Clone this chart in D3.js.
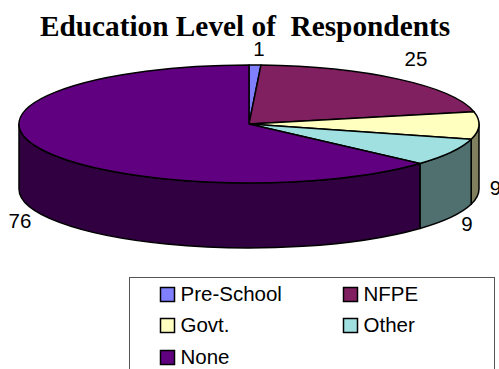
<!DOCTYPE html>
<html><head><meta charset="utf-8">
<script src="https://cdn.jsdelivr.net/npm/d3@7"></script>
<style>html,body{margin:0;padding:0;background:#fff;overflow:hidden}svg{display:block}</style>
</head><body><div id="c"></div>
<script>
const categories = ["Pre-School","NFPE","Govt.","Other","None"];
const values = [1,25,9,9,76];
const topColors = ["#8080ff","#802060","#ffffc0","#a0e0e0","#600080"];
const sideColors = ["#40407f","#401030","#80805f","#507070","#300040"];
const W=499,H=369,cx=249,cy=124,rx=230,ry=59,depth=65;
const svg=d3.select("#c").append("svg").attr("width",W).attr("height",H);
const pie=d3.pie().sort(null).value(d=>d)(values);
const px=a=>cx+rx*Math.sin(a), py=a=>cy-ry*Math.cos(a);
const lo=Math.PI/2, hi=3*Math.PI/2;
// side walls
svg.append("g").selectAll("path").data(pie.filter(d=>d.endAngle>lo&&d.startAngle<hi)).join("path")
 .attr("d",d=>{const a=Math.max(d.startAngle,lo),b=Math.min(d.endAngle,hi);
   const large=(b-a)>Math.PI?1:0;
   return `M${px(a)},${py(a)}A${rx},${ry} 0 ${large} 1 ${px(b)},${py(b)}L${px(b)},${py(b)+depth}A${rx},${ry} 0 ${large} 0 ${px(a)},${py(a)+depth}Z`;})
 .attr("fill",d=>sideColors[d.index]).attr("stroke","#000").attr("stroke-width",1.5).attr("stroke-linejoin","round");
// top face
const arc=d3.arc().innerRadius(0).outerRadius(1);
svg.append("g").attr("transform",`translate(${cx},${cy}) scale(${rx},${ry})`)
 .selectAll("path").data(pie).join("path").attr("d",arc)
 .attr("fill",d=>topColors[d.index]).attr("stroke","#000").attr("stroke-width",1.5)
 .attr("vector-effect","non-scaling-stroke").attr("stroke-linejoin","round");
// title
svg.append("text").attr("x",245).attr("y",36).attr("text-anchor","middle")
 .attr("font-family","Liberation Serif").attr("font-weight","bold").attr("font-size",29.3)
 .attr("xml:space","preserve").style("white-space","pre").text("Education Level of  Respondents");
// data labels
const labelPos=[[259,56],[416,66],[495.5,195],[467,231],[20,228]];
svg.append("g").selectAll("text").data(values).join("text")
 .attr("x",(d,i)=>labelPos[i][0]).attr("y",(d,i)=>labelPos[i][1]).attr("text-anchor","middle")
 .attr("font-family","Liberation Sans").attr("font-size",20.5).attr("fill","#000").text(d=>d);
// legend
svg.append("rect").attr("x",129.5).attr("y",277.5).attr("width",365).attr("height",100)
 .attr("fill","#fff").attr("stroke","#555").attr("stroke-width",1);
const lx=[160,343], ly=[294.5,325.5,357.5];
const lg=svg.append("g").selectAll("g").data(categories).join("g")
 .attr("transform",(d,i)=>`translate(${lx[i%2]},${ly[Math.floor(i/2)]})`);
lg.append("rect").attr("x",0.5).attr("y",-7).attr("width",14).attr("height",14)
 .attr("fill",(d,i)=>topColors[i]).attr("stroke","#000").attr("stroke-width",1.5);
lg.append("text").attr("x",20.5).attr("y",6.3).attr("font-family","Liberation Sans").attr("font-size",20.5).text(d=>d);
</script></body></html>
